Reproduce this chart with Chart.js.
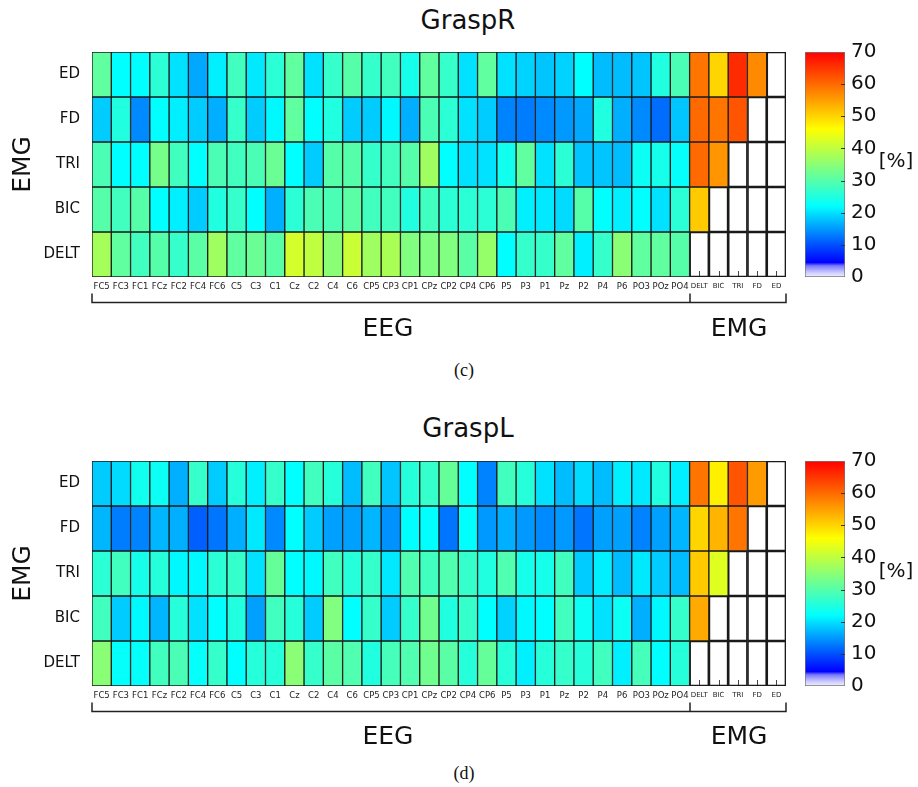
<!DOCTYPE html>
<html>
<head>
<meta charset="utf-8">
<script src="https://cdn.jsdelivr.net/npm/chart.js@4.4.0/dist/chart.umd.min.js"></script>
<style>
  body { margin: 0; background: #fff; }
  #fig { position: relative; width: 918px; height: 787px; font-family: 'DejaVu Sans', sans-serif; color: #111; }
  canvas { position: absolute; }
  .lbl { position: absolute; transform: translate(-50%, -50%); white-space: nowrap; line-height: 1; }
  .cap { font-family: 'Liberation Serif', serif; font-size: 18px; }
</style>
</head>
<body>
<div id="fig">
  <div class="lbl" style="left:468px;top:20px;font-size:26px">GraspR</div>
  <canvas id="heatR" width="800" height="320" style="left:0;top:0"></canvas>
  <canvas id="barR" width="128" height="320" style="left:790px;top:0"></canvas>
  <div class="lbl" style="left:896px;top:160px;font-size:20px">[%]</div>
  <div class="lbl" style="left:388px;top:327px;font-size:25px">EEG</div>
  <div class="lbl" style="left:739px;top:327px;font-size:25px">EMG</div>
  <div class="lbl cap" style="left:464px;top:370px">(c)</div>

  <div class="lbl" style="left:468px;top:428px;font-size:26px">GraspL</div>
  <canvas id="heatL" width="800" height="320" style="left:0;top:409px"></canvas>
  <canvas id="barL" width="128" height="320" style="left:790px;top:409px"></canvas>
  <div class="lbl" style="left:896px;top:570px;font-size:20px">[%]</div>
  <div class="lbl" style="left:388px;top:735px;font-size:25px">EEG</div>
  <div class="lbl" style="left:739px;top:735px;font-size:25px">EMG</div>
  <div class="lbl cap" style="left:464px;top:773px">(d)</div>
</div>
<script>
const FONT = "'DejaVu Sans', sans-serif";

// columns: 31 EEG channels then 5 EMG muscles
const channels = ['FC5','FC3','FC1','FCz','FC2','FC4','FC6','C5','C3','C1','Cz','C2','C4','C6',
  'CP5','CP3','CP1','CPz','CP2','CP4','CP6','P5','P3','P1','Pz','P2','P4','P6','PO3','POz','PO4',
  'DELT','BIC','TRI','FD','ED'];
const eegCount = 31;
// rows, top to bottom
const muscles = ['ED','FD','TRI','BIC','DELT'];

// GraspR values [%]
const graspR_ED   = [31,22,22,26,20,16,21,28,20.5,26,31,20,27,30,27,28,24,31,27,20,31,20,19,18,19,22,17.5,17.5,18,25,29,59,50,66,57,null];
const graspR_FD   = [18.5,25,14,22,21,18.5,16.5,27,18.5,21.5,31,22,25,18.5,18.5,21.5,16.5,29,26,20,18.5,13.5,13,14,15,16,25,16.5,14,12,18,60,59,62,null,null];
const graspR_TRI  = [29,22,22,33,28,22,29,28,29,32,22,18.5,30,30,27,28,30,37,22,20,20,23.5,31,20,26,18,18,17.5,23,24,22.5,60,56,null,null,null];
const graspR_BIC  = [30,28,30,22,21,18.5,25,27,22,16.5,26,29,29,30.5,28,28,25,28,26,26,26,29,21,20.5,19.5,30,22,21,22,20,26,51,null,null,null,null];
const graspR_DELT = [37.5,31,28,30,27,30.5,37,31,32,30.5,42,40,35,41,37,38,34,34,34,30.5,36,22,27,27,31,21,27,35,31,31,30,null,null,null,null,null];

// GraspL values [%]
const graspL_ED   = [18.5,19.5,23.5,23,16.5,27,18.5,25.5,21,27,22,28,25.5,17.5,28,18,25.5,27,31.5,22,13.5,28,25.5,20,17.5,19.5,17.5,21,20.5,25,21,59,47.5,62,55.5,null];
const graspL_FD   = [17,13,13.5,17,16.5,11,12.5,16.5,20.5,14,22,18.5,15.5,15.5,17,14.5,22,22,12.5,22,15,16.5,15,14,15,12.5,15.5,15.5,13.5,15.5,17,50,53,59,null,null];
const graspL_TRI  = [26,28,24,25.5,21.5,21.5,26,27,20,31.5,22,21.5,28,25.5,27,20.5,29.5,28,29.5,27,25,29.5,24,24,28,18.5,21,17.5,20.5,18.5,17.5,51,43,null,null,null];
const graspL_BIC  = [28,18.5,21.5,17,25.5,20,22,25,15.5,28,25.5,18.5,34,22,27,18.5,27,32.5,25,27,22,19,21.5,22,28,23,20,23,16.5,21.5,27,54,null,null,null,null];
const graspL_DELT = [35,22.5,22.5,28,29,22.5,27,22,25.5,25.5,35,27,30.5,29.5,25,28.5,29.5,32.5,30.5,25.5,31.5,25.5,21,25.5,27,25.5,28,21,28.5,22,25.5,null,null,null,null,null];

// colour scale
const scaleMin = 0;
const scaleMax = 70;
const scaleTicks = [0,10,20,30,40,50,60,70];
const cmap = [
  [0, [240,240,255]], [1.5, [200,200,255]], [3.5, [120,120,255]], [4.5, [0,0,255]],
  [22, [0,255,255]], [46, [255,255,0]], [70, [255,0,0]]
];

function valueColor(v) {
  if (v <= cmap[0][0]) return 'rgb(' + cmap[0][1].join(',') + ')';
  for (let i = 1; i < cmap.length; i++) {
    if (v <= cmap[i][0]) {
      const [a, ca] = cmap[i - 1], [b, cb] = cmap[i];
      const t = (v - a) / (b - a);
      return 'rgb(' + ca.map((c, k) => Math.round(c + (cb[k] - c) * t)).join(',') + ')';
    }
  }
  return 'rgb(' + cmap[cmap.length - 1][1].join(',') + ')';
}

// small inward ticks at the bottom of each column (only visible in empty cells)
const innerTicks = {
  id: 'innerTicks',
  beforeDatasetsDraw(chart) {
    const { ctx, chartArea, scales: { x } } = chart;
    ctx.save();
    ctx.strokeStyle = '#444';
    ctx.lineWidth = 1;
    channels.forEach((c, i) => {
      const px = Math.round(x.getPixelForValue(i)) + 0.5;
      ctx.beginPath();
      ctx.moveTo(px, chartArea.bottom);
      ctx.lineTo(px, chartArea.bottom - 6);
      ctx.stroke();
    });
    ctx.restore();
  }
};

// EEG / EMG bracket under the x labels
const bracket = {
  id: 'bracket',
  afterDraw(chart) {
    const { ctx, chartArea, scales: { x } } = chart;
    const y = chartArea.bottom + 25.5;
    const mid = Math.round((x.getPixelForValue(eegCount - 1) + x.getPixelForValue(eegCount)) / 2);
    ctx.save();
    ctx.strokeStyle = '#222';
    ctx.lineWidth = 1.5;
    ctx.beginPath();
    ctx.moveTo(chartArea.left, y - 9);
    ctx.lineTo(chartArea.left, y);
    ctx.lineTo(chartArea.right, y);
    ctx.lineTo(chartArea.right, y - 9);
    ctx.moveTo(mid, y - 9);
    ctx.lineTo(mid, y);
    ctx.stroke();
    ctx.restore();
  }
};

function heatChart(id, rows) {
  const n = rows.length;
  return new Chart(document.getElementById(id), {
    type: 'bar',
    data: {
      labels: channels,
      datasets: rows.map((vals, r) => {
        const level = n - 1 - r;
        return {
          label: muscles[r],
          data: vals.map(() => [level, level + 1]),
          backgroundColor: vals.map(v => v === null ? 'rgba(0,0,0,0)' : valueColor(v)),
          borderColor: '#1a1a1a',
          borderWidth: 1,
          borderSkipped: false,
          grouped: false,
          barPercentage: 1,
          categoryPercentage: 1
        };
      })
    },
    options: {
      responsive: false,
      animation: false,
      events: [],
      layout: { padding: { left: 0, top: 52, right: 14, bottom: 0 } },
      plugins: { legend: { display: false }, tooltip: { enabled: false } },
      scales: {
        x: {
          afterFit: s => { s.height = 43; },
          grid: { display: false, drawTicks: false },
          border: { display: false },
          ticks: {
            autoSkip: false, maxRotation: 0, minRotation: 0, padding: 5, color: '#222',
            font: ctx => ({ family: FONT, size: ctx.index >= eegCount ? 7 : 8.5 })
          }
        },
        y: {
          min: 0,
          max: n,
          afterFit: s => { s.width = 92; },
          afterBuildTicks: s => { s.ticks = muscles.map((m, i) => ({ value: i + 0.5 })); },
          grid: { display: false, drawTicks: false },
          border: { display: false },
          ticks: {
            padding: 12, color: '#111',
            font: { family: FONT, size: 15 },
            callback: v => muscles[n - 1 - Math.floor(v)]
          },
          title: { display: true, text: 'EMG', color: '#111', font: { family: FONT, size: 25 }, padding: { top: 8, bottom: 0 } }
        }
      }
    },
    plugins: [innerTicks, bracket]
  });
}

function barGradient(chart) {
  const y = chart.scales.y;
  if (!y) return '#ccc';
  const y0 = y.getPixelForValue(scaleMin), y1 = y.getPixelForValue(scaleMax);
  if (!isFinite(y0) || !isFinite(y1) || y0 === y1) return '#ccc';
  const g = chart.ctx.createLinearGradient(0, y0, 0, y1);
  cmap.forEach(([v, c]) => g.addColorStop((v - scaleMin) / (scaleMax - scaleMin), 'rgb(' + c.join(',') + ')'));
  return g;
}

const barTicks = {
  id: 'barTicks',
  afterDatasetsDraw(chart) {
    const { ctx, chartArea, scales: { y } } = chart;
    ctx.save();
    ctx.strokeStyle = '#333';
    ctx.lineWidth = 1;
    scaleTicks.slice(1, -1).forEach(v => {
      const py = Math.round(y.getPixelForValue(v)) + 0.5;
      ctx.beginPath();
      ctx.moveTo(chartArea.right - 4, py);
      ctx.lineTo(chartArea.right, py);
      ctx.stroke();
    });
    ctx.restore();
  }
};

function colorBar(id) {
  return new Chart(document.getElementById(id), {
    type: 'bar',
    data: {
      labels: [''],
      datasets: [{
        data: [[scaleMin, scaleMax]],
        backgroundColor: ctx => barGradient(ctx.chart),
        borderColor: '#777',
        borderWidth: 1,
        borderSkipped: false,
        barPercentage: 1,
        categoryPercentage: 1
      }]
    },
    options: {
      responsive: false,
      animation: false,
      events: [],
      layout: { padding: { left: 15, top: 52, right: 0, bottom: 43 } },
      plugins: { legend: { display: false }, tooltip: { enabled: false } },
      scales: {
        x: { display: false },
        y: {
          position: 'right',
          min: scaleMin,
          max: scaleMax,
          afterFit: s => { s.width = 73; },
          afterBuildTicks: s => { s.ticks = scaleTicks.map(v => ({ value: v })); },
          grid: { display: false, drawTicks: false },
          border: { display: false },
          ticks: { padding: 6, color: '#111', font: { family: FONT, size: 20 } }
        }
      }
    },
    plugins: [barTicks]
  });
}

heatChart('heatR', [graspR_ED, graspR_FD, graspR_TRI, graspR_BIC, graspR_DELT]);
const cbR = colorBar('barR');
heatChart('heatL', [graspL_ED, graspL_FD, graspL_TRI, graspL_BIC, graspL_DELT]);
const cbL = colorBar('barL');
// redraw once the scales exist so the gradient can be built from them
cbR.update();
cbL.update();
</script>
</body>
</html>
